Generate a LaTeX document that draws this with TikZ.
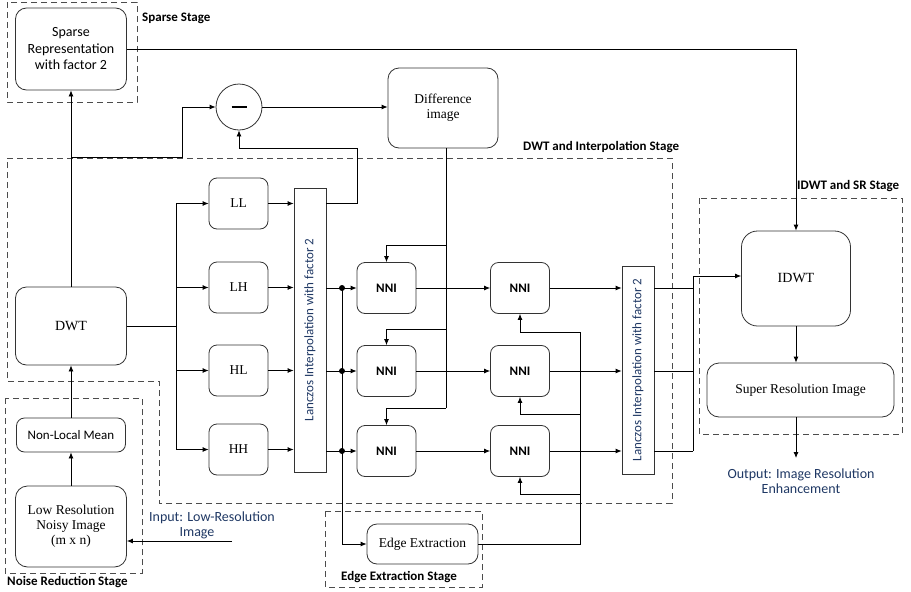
\documentclass[tikz,border=0pt]{standalone}
\usepackage{fontspec}
\setmainfont{Liberation Serif}
\setsansfont{Carlito}
\usepackage{graphicx}
\usetikzlibrary{arrows.meta,positioning,calc}
\definecolor{navy}{HTML}{1F3864}
\tikzstyle{line} = [draw, line width=0.8pt, >={Latex[length=6pt,width=5pt]}]
\tikzset{>={Latex[length=6pt,width=5pt]}}
\tikzset{
  box/.style={draw=black!80, line width=0.8pt, rounded corners=8pt, align=center,
    inner sep=2pt, font=\fontsize{13.5}{15}\selectfont},
  sbox/.style={box, font=\sffamily\fontsize{14}{16.5}\selectfont},
  band/.style={box, minimum width=59pt, minimum height=51pt},
  nni/.style={band, font=\sffamily\bfseries\fontsize{13}{15}\selectfont},
  lanc/.style={draw=black!80, line width=0.8pt, minimum width=32pt, inner sep=0pt,
    text=navy, font=\sffamily\fontsize{13}{15}\selectfont},
  stage/.style={draw=black!70, line width=0.8pt, dash pattern=on 6pt off 4pt},
  stagelabel/.style={anchor=west, inner sep=0pt, font=\sffamily\bfseries\fontsize{13}{15}\selectfont},
  note/.style={text=navy, align=center, inner sep=0pt, font=\sffamily\fontsize{14}{15}\selectfont}
}

\begin{document}
\begin{tikzpicture}[x=1pt,y=-1pt]
  \useasboundingbox (0,0) rectangle (911,592);
  % stages
  \draw [stage] (7,2) rectangle (137,102);
  \draw [stage] (7,158) -- (672,158) -- (672,503) -- (159,503) -- (159,381) -- (7,381) -- cycle;
  \draw [stage] (5,398) rectangle (142,573);
  \draw [stage] (325,511) rectangle (482,587);
  \draw [stage] (699,198) rectangle (902,434);
  \node [stagelabel] (lsparse) at (142,18) {Sparse Stage};
  \node [stagelabel] (ldwt) at (523,147) {DWT and Interpolation Stage};
  \node [stagelabel] (lidwt) at (797,186) {IDWT and SR Stage};
  \node [stagelabel] (lnoise) at (7,582) {Noise Reduction Stage};
  \node [stagelabel] (ledge) at (341,577) {Edge Extraction Stage};

  % blocks
  \node [sbox, minimum width=111pt, minimum height=82pt, rounded corners=11pt] (sparse) at (71,49) {Sparse\\Representation\\with factor 2};
  \node [draw=black!80, line width=0.8pt, circle, minimum size=46pt, inner sep=0pt] (minus) at (239,107) {\rule{15pt}{2.2pt}};
  \node [box, minimum width=110pt, minimum height=80pt, rounded corners=11pt] (diff) at (443,108) {Difference\\image};
  \node [box, minimum width=111pt, minimum height=78pt, rounded corners=11pt, font=\fontsize{14}{16}\selectfont] (dwt) at (71,326) {DWT};
  \node [band] (ll) at (238.5,203.5) {LL};
  \node [band] (lh) at (238.5,287.5) {LH};
  \node [band] (hl) at (238.5,370.5) {HL};
  \node [band] (hh) at (238.5,449.5) {HH};
  \node [lanc, minimum height=284pt] (lanc1) at (310,330) {\rotatebox{90}{Lanczos Interpolation with factor 2}};
  \node [nni] (nni1a) at (386.5,288) {NNI};
  \node [nni] (nni1b) at (386.5,371) {NNI};
  \node [nni] (nni1c) at (386.5,451) {NNI};
  \node [nni] (nni2a) at (520,288) {NNI};
  \node [nni] (nni2b) at (520,371) {NNI};
  \node [nni] (nni2c) at (520,451) {NNI};
  \node [lanc, minimum height=208pt] (lanc2) at (638,370) {\rotatebox{90}{Lanczos Interpolation with factor 2}};
  \node [box, minimum width=109pt, minimum height=95pt, rounded corners=16pt, font=\fontsize{14}{16}\selectfont] (idwt) at (796,278.5) {IDWT};
  \node [box, minimum width=187pt, minimum height=54pt, rounded corners=12pt] (sr) at (800.5,390) {Super Resolution Image};
  \node [sbox, minimum width=109pt, minimum height=34pt, font=\sffamily\fontsize{13}{15}\selectfont] (nlm) at (71,435) {Non-Local Mean};
  \node [box, minimum width=111pt, minimum height=81pt, rounded corners=12pt] (lr) at (71,526.5) {Low Resolution\\Noisy Image\\(m x n)};
  \node [box, minimum width=111pt, minimum height=40pt, rounded corners=10pt] (edge) at (422.5,544) {Edge Extraction};

  % input and output
  \coordinate (in) at (232,541);
  \node [note] (inlabel) at (212,525) {Input: Low-Resolution\\Image\hspace*{30pt}};
  \coordinate (out) at (796,458);
  \node [note] (outlabel) at (801,481) {Output: Image Resolution\\Enhancement};

  % connectors
  \path [line,->] (in) -- (in -| lr.east);
  \path [line,->] (lr) -- (nlm);
  \path [line,->] (nlm) -- (dwt);
  \path [line,->] (dwt) -- (sparse);
  \coordinate (tap) at (71,157);
  \path [line,->] (tap) -- (182,157) |- (minus);
  \coordinate (split) at (176,326);
  \path [line] (dwt) -- (split);
  \foreach \b in {ll,lh,hl,hh} {
    \path [line,->] (split) |- (\b);
    \path [line,->] (\b) -- (\b -| lanc1.west);
  }
  \path [line,->] (lanc1.east |- ll) -| (357,148) -| (minus);
  \path [line,->] (minus) -- (minus -| diff.west);
  \coordinate (dtap) at (446,148);
  \path [line] (dtap) -- (446,408);
  \foreach \n/\y in {nni1a/245,nni1b/329,nni1c/408}
    \path [line,->] (446,\y) -| (\n);
  \coordinate (ebus) at (342,544);
  \path [line,->] (ebus |- nni1a) |- (edge);
  \coordinate (rbus) at (580,544);
  \path [line] (edge) -- (rbus) -- (580,332);
  \foreach \n/\y in {a/332,b/414,c/494}
    \path [line,->] (580,\y) -| (nni2\n);
  \coordinate (join) at (693,276);
  \foreach \n in {a,b,c} {
    \path [line,->] (lanc1.east |- nni1\n) -- (nni1\n);
    \fill (ebus |- nni1\n) circle [radius=3pt];
    \path [line,->] (nni1\n) -- (nni2\n);
    \path [line,->] (nni2\n) -- (nni2\n -| lanc2.west);
    \path [line] (lanc2.east |- nni2\n) -- (join |- nni2\n);
  }
  \path [line,->] (join |- nni2c) -- (join) -- (join -| idwt.west);
  \path [line,->] (sparse) -| (idwt);
  \path [line,->] (idwt) -- (idwt |- sr.north);
  \path [line,->] (idwt |- sr.south) -- (out);
\end{tikzpicture}
\end{document}
